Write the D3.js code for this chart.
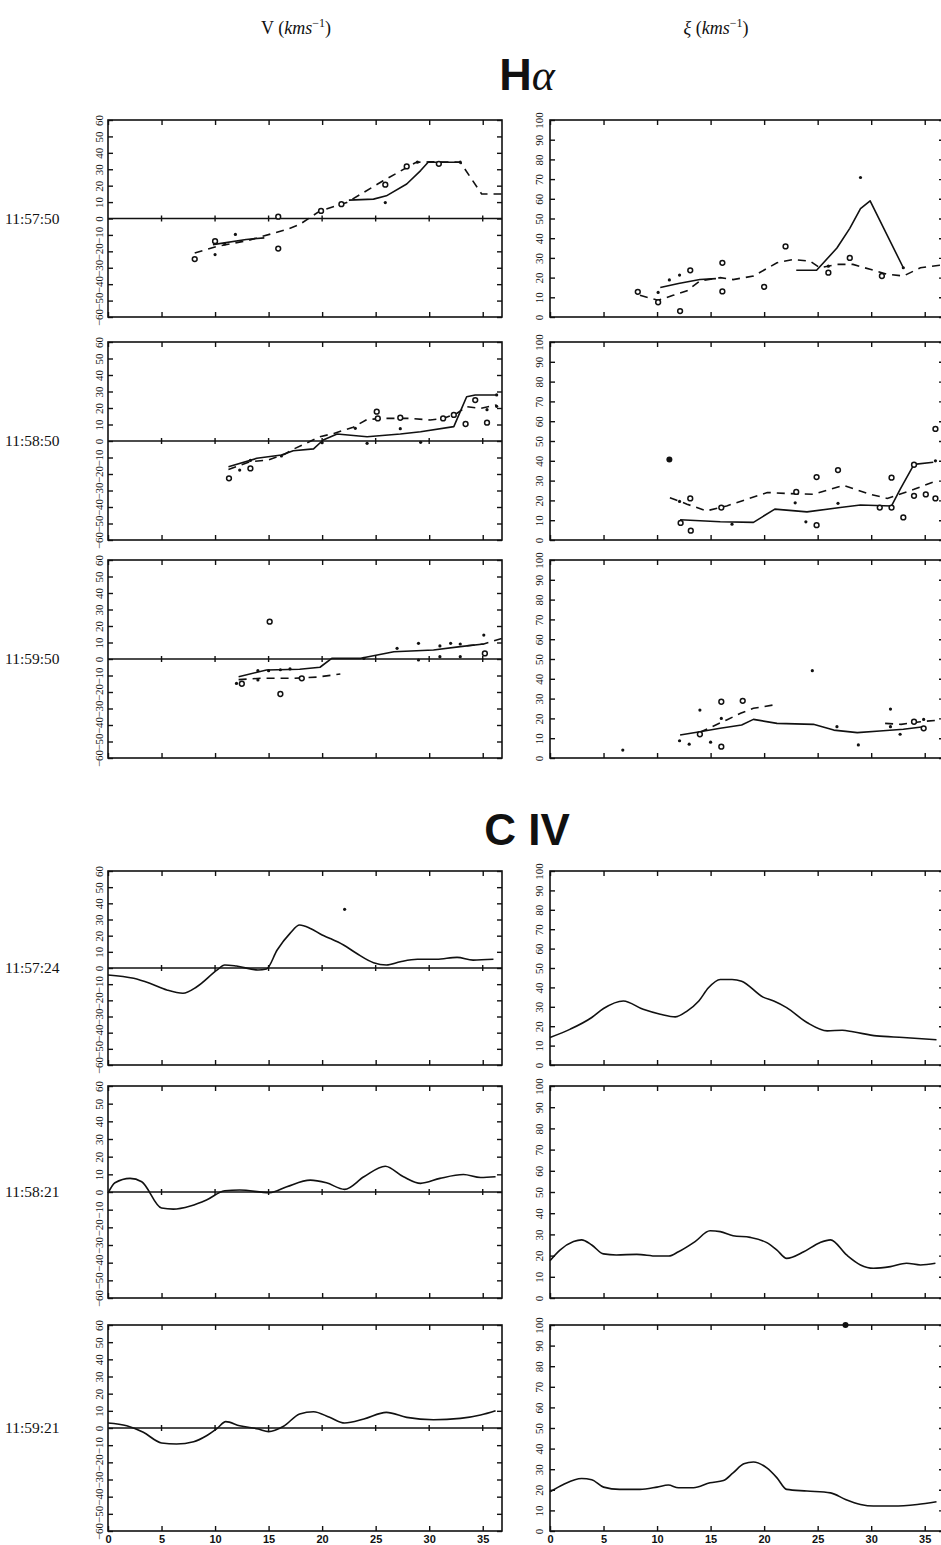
<!DOCTYPE html>
<html>
<head>
<meta charset="utf-8">
<script src="https://cdn.jsdelivr.net/npm/d3@7"></script>
<style>
  body { margin: 0; background: #fff; }
  svg { display: block; }
</style>
</head>
<body>
<div id="chart"></div>
<script>

/** axis ticks and row labels */
const timeTicks = [0, 5, 10, 15, 20, 25, 30, 35];
const vTicks = [-60, -50, -40, -30, -20, -10, 0, 10, 20, 30, 40, 50, 60];
const xiTicks = [0, 10, 20, 30, 40, 50, 60, 70, 80, 90, 100];
const rowTimes = ['11:57:50', '11:58:50', '11:59:50', '11:57:24', '11:58:21', '11:59:21'];

/** H-alpha, 11:57:50 */
const haV1Solid = [[9.8,-15.9],[12.9,-12.8],[14.6,-11.8],null,[22.5,11.2],[24.8,11.8],[26.0,13.8],[27.9,21.0],[29.2,29.2],[29.9,34.3],[32.9,34.3]];
const haV1Dashed = [[8.1,-21.0],[10.2,-16.9],[13.0,-13.5],[16.7,-6.7],[17.9,-3.6],[19.8,4.6],[22.3,9.7],[25.7,23.0],[28.8,34.3],[30.0,34.5],[32.9,34.3],[34.9,14.9],[36.8,14.9]];
const haV1Circles = [[8.1,-24.7],[10.0,-13.8],[15.9,1.1],[15.9,-18.3],[19.9,4.6],[21.8,8.7],[25.9,20.6],[27.9,31.7],[30.9,33.3]];
const haV1Dots = [[10.0,-22.0],[10.9,-15.5],[11.9,-9.7],[25.9,9.7],[28.9,34.3],[32.9,34.3]];

const haXi1Solid = [[10.3,15],[12,17],[14,19],[15.5,19.5],null,[23.0,23.7],[24.9,23.7],[26.8,35],[28.0,45],[29.0,55],[29.9,59],[33.0,25]];
const haXi1Dashed = [[8.4,11],[10.1,8.5],[11.5,11],[12.8,13.3],[14.0,18.3],[15.9,20],[17.1,19],[19.0,20.8],[21.2,27.5],[22.7,29.2],[24.3,28.3],[25.2,25],[26.8,26.7],[28.3,26.7],[29.9,24.2],[31.5,21.7],[33.0,20.8],[34.6,25],[36.4,26.3],[36.8,26.3]];
const haXi1Circles = [[8.2,12.8],[10.1,7.5],[12.15,3],[13.1,23.7],[16.1,27.5],[16.1,13],[20.0,15.3],[22.0,35.8],[26.0,22.5],[28.0,30],[31.0,20.8]];
const haXi1Dots = [[10.1,12.5],[11.15,18.8],[12.1,21.3],[26.0,25.8],[29.0,70.8],[33.0,25]];

/** H-alpha, 11:58:50 */
const haV2Solid = [[11.25,-15.6],[13.9,-10.5],[16.2,-8.5],[17.3,-5.9],[19.2,-4.8],[20.1,0.6],[21.4,4.2],[24.2,2.6],[27.3,4.2],[29.2,5.6],[32.3,8.7],[32.9,17.8],[33.5,26.8],[34.3,27.9],[36.3,27.9]];
const haV2Dashed = [[11.25,-17.2],[13.3,-12.5],[15.0,-11.5],[16.5,-8],[17.3,-5],[19.8,2.6],[21.1,4.6],[22.9,8.3],[24.2,13.1],[26.0,13.7],[28.2,13.7],[30.1,12.7],[31.3,13.7],[32.6,16.8],[33.5,20.8],[34.8,19.8],[36.3,21.8]];
const haV2Circles = [[11.3,-22.6],[13.3,-16.6],[25.1,17.8],[25.2,13.7],[27.3,14.1],[31.3,13.7],[32.3,15.8],[33.4,10.3],[34.3,24.8],[35.4,11.1]];
const haV2Dots = [[12.3,-17.6],[13.3,-11.8],[16.2,-9.1],[20.0,-1],[23.1,7.7],[24.2,-1.4],[27.3,7.5],[29.2,-0.8],[35.4,19],[36.3,27.9],[36.3,21]];

const haXi2Solid = [[12.15,10.2],[15.9,9.2],[19.0,8.9],[21.0,15.6],[24.0,14.2],[27.1,16.4],[29.0,17.7],[31.9,17.2],[32.7,25.6],[34.0,38.2],[35.8,39.3]];
const haXi2Dashed = [[11.2,21.4],[12.8,18.1],[14.6,14.7],[16.5,17.2],[18.4,20.6],[20.3,24],[22.1,23.5],[24.6,23.1],[27.4,27.6],[29.9,23.1],[31.5,21],[34.0,25.6],[35.8,29.3]];
const haXi2Circles = [[12.2,8.6],[13.1,21],[13.15,4.7],[16.0,16.4],[23.0,24.3],[24.9,31.8],[24.9,7.5],[26.9,35.3],[30.8,16.4],[31.9,31.5],[31.9,16.4],[33.0,11.4],[34.0,38],[34.0,22.3],[35.1,23],[36.0,56.1],[36.0,21]];
const haXi2Dots = [[12.1,19.5],[17.0,8],[22.9,18.8],[23.9,9.2],[26.9,18.5],[36.0,40]];
const haXi2Filled = [[11.15,40.7]];

/** H-alpha, 11:59:50 */
const haV3Solid = [[12.2,-10.7],[14.8,-6.7],[17.9,-6.2],[19.8,-5.0],[20.9,0.4],[23.6,0.4],[26.7,4.4],[30.4,5.5],[32.9,7.5],[35.1,9.1]];
const haV3Dashed = [[12.2,-12.5],[14.2,-11.7],[17.3,-11.7],[19.5,-11],[21.7,-9.1],null,[33.5,8],[35.1,9.1],[36.8,12.5]];
const haV3Circles = [[15.1,22.6],[16.1,-21.2],[18.1,-11.7],[12.5,-15],[35.2,3.4]];
const haV3Dots = [[12.0,-14.8],[14.0,-7.1],[15.0,-7.1],[16.1,-6.5],[17.0,-6.0],[14.0,-12.7],[23.9,0.4],[27.0,6.5],[29.0,9.5],[29.0,-0.6],[31.0,7.9],[31.0,1.4],[32.0,9.5],[32.9,9.1],[32.9,1.4],[35.1,14.5]];

const haXi3Solid = [[12.15,11.6],[14.0,13.3],[15.9,15],[17.9,16.7],[19.0,19.5],[21.2,17.5],[24.6,17],[26.5,14.1],[28.7,12.8],[30.8,13.6],[33.0,14.5],[34.9,15.8]];
const haXi3Dashed = [[14.0,13],[16.5,19.2],[17.8,22.6],[19.0,25.1],[20.9,26.8],null,[31.3,17.5],[32.8,17],[34.6,18.3],[36.4,19.2]];
const haXi3Circles = [[16.0,28.4],[18.0,28.9],[16.0,5.7],[34.0,18.3],[34.9,15],[14.0,12]];
const haXi3Dots = [[12.1,8.7],[13.0,7],[14.0,24.2],[16.0,20],[15.0,8],[24.5,44.1],[26.8,15.8],[28.8,6.6],[31.8,24.7],[31.8,15.8],[32.7,12],[34.9,19.5],[6.8,4]];

/** C IV, single curves */
const c4V1 = [[0,-4.3],[2.4,-6.4],[3.9,-9.5],[5.5,-13.6],[7.0,-15.6],[8.3,-11.6],[10.2,-1.2],[10.9,1.9],[12.0,1.2],[14.0,-1.2],[14.8,-0.6],[15.8,11.1],[17.0,21.4],[17.9,26.6],[18.9,24.5],[20.0,20.4],[20.7,18.4],[22.0,14.2],[23.2,9.1],[24.8,3.3],[26.0,1.9],[27.3,3.9],[28.9,5.4],[30.7,5.4],[32.6,6.6],[34.1,4.9],[36.0,5.4]];
const c4V1Dots = [[22.1,36.3]];
const c4Xi1 = [[0,14.2],[1.9,18.5],[3.9,24.5],[5.0,29.1],[6.85,33],[8.7,28.7],[10.3,26.2],[11.7,24.8],[12.8,27.8],[13.9,33],[14.8,39.8],[15.9,44.1],[17.0,44.1],[17.9,43.2],[19.9,35],[20.9,33],[22.1,29.6],[24.0,21.9],[25.9,17.6],[27.3,17.9],[28.3,17.1],[30.5,15],[33.0,14.2],[36.1,13.0]];

const c4V2 = [[0,-0.7],[0.65,5.2],[2.06,7.7],[3.15,5.8],[5.0,-9.1],[6.1,-9.7],[7.7,-7.9],[9.2,-4.5],[10.9,0.7],[12.3,1.1],[15.1,-0.4],[16.7,3],[18.9,6.7],[20.4,5.2],[22.1,1.5],[23.9,8.6],[25.9,14.6],[27.6,8.6],[29.2,4.9],[31.0,7.7],[33.2,9.9],[34.8,8.2],[36.2,8.6]];
const c4Xi2 = [[0,17.6],[0.93,22.6],[2.2,26.6],[2.95,27.4],[3.9,25],[5.0,20.8],[6.2,20.3],[8.1,20.6],[10.0,19.8],[11.1,19.8],[12.0,21.8],[13.55,26.6],[14.95,31.7],[15.9,31.3],[17.1,29.4],[18.7,28.6],[20.25,26.1],[21.2,22.6],[22.1,18.7],[23.7,21.8],[25.2,26.1],[26.2,27.4],[27.7,20.3],[29.0,15.6],[30.2,14],[31.8,14.8],[33.3,16.4],[34.6,15.6],[36.0,16.4]];

const c4V3 = [[0,2.9],[1.75,1.3],[3.3,-2.5],[5.0,-8.7],[6.4,-9.3],[8.0,-8],[9.2,-4.5],[10.2,-0.2],[11.0,3.7],[12.3,1.3],[14.05,-0.6],[15.0,-2.1],[16.4,1],[17.9,8.2],[19.2,9.5],[20.7,6.2],[22.1,2.9],[23.9,5.2],[26.0,9.1],[27.9,6.2],[30.4,4.8],[32.9,5.6],[34.8,7.6],[36.2,10.1]];
const c4Xi3 = [[0,19],[1.25,22.6],[2.95,25.5],[3.9,24.9],[5.0,21.3],[6.5,20.2],[8.4,20.2],[10.0,21.3],[11.05,22.3],[12.0,21],[13.4,21],[14.95,23.4],[16.2,24.5],[17.1,28.2],[18.1,32.6],[19.0,33.5],[20.25,30.6],[21.2,25.8],[22.1,20.2],[24.0,19.4],[26.2,18.5],[27.6,15.3],[29.0,12.9],[30.2,12.1],[32.1,12.1],[34.3,12.9],[36.1,14.2]];
const c4Xi3Filled = [[27.6,100]];


/** Set up canvas */
let width = 941, height = 1545;
let svg = d3.select('#chart').append('svg')
    .attr('width', width)
    .attr('height', height);

const colX = [108, 550];
const plotW = 394;
const rowY = [[120, 317], [342, 540], [560, 758], [871, 1065], [1086, 1298], [1325, 1531]];
const ink = '#111';

const panels = [
  {row: 0, col: 0, solid: haV1Solid, dashed: haV1Dashed, circles: haV1Circles, dots: haV1Dots},
  {row: 0, col: 1, solid: haXi1Solid, dashed: haXi1Dashed, circles: haXi1Circles, dots: haXi1Dots},
  {row: 1, col: 0, solid: haV2Solid, dashed: haV2Dashed, circles: haV2Circles, dots: haV2Dots},
  {row: 1, col: 1, solid: haXi2Solid, dashed: haXi2Dashed, circles: haXi2Circles, dots: haXi2Dots, filled: haXi2Filled},
  {row: 2, col: 0, solid: haV3Solid, dashed: haV3Dashed, circles: haV3Circles, dots: haV3Dots},
  {row: 2, col: 1, solid: haXi3Solid, dashed: haXi3Dashed, circles: haXi3Circles, dots: haXi3Dots},
  {row: 3, col: 0, solid: c4V1, dots: c4V1Dots, smooth: true},
  {row: 3, col: 1, solid: c4Xi1, smooth: true},
  {row: 4, col: 0, solid: c4V2, smooth: true},
  {row: 4, col: 1, solid: c4Xi2, smooth: true},
  {row: 5, col: 0, solid: c4V3, smooth: true},
  {row: 5, col: 1, solid: c4Xi3, filled: c4Xi3Filled, smooth: true}
];

function drawPanel (p) {
  let x0 = colX[p.col], top = rowY[p.row][0], bottom = rowY[p.row][1];
  let h = bottom - top;
  let isV = p.col === 0;

  let x = d3.scaleLinear().domain([0, 36.8]).range([0, plotW]);
  let y = d3.scaleLinear().domain(isV ? [-60, 60] : [0, 100]).range([h, 0]);

  let g = svg.append('g').attr('transform', `translate(${x0}, ${top})`);

  /** axes with inward ticks */
  let yTicks = isV ? vTicks : xiTicks;
  let left = g.append('g').call(d3.axisLeft(y).tickValues(yTicks).tickSize(-5).tickPadding(0));
  left.selectAll('text')
      .attr('x', null).attr('dy', null)
      .attr('transform', `translate(${isV ? -5 : -7}, 0) rotate(-90)`)
      .attr('text-anchor', 'middle')
      .style('font-family', 'Liberation Serif')
      .style('font-size', '11px')
      .attr('fill', ink);
  g.append('g').attr('transform', `translate(${plotW}, 0)`)
      .call(d3.axisRight(y).tickValues(yTicks).tickSize(-5).tickFormat(''));
  g.append('g').call(d3.axisTop(x).tickValues(timeTicks).tickSize(-5).tickFormat(''));
  let bot = g.append('g').attr('transform', `translate(0, ${h})`)
      .call(d3.axisBottom(x).tickValues(timeTicks).tickSize(-5).tickPadding(4)
             .tickFormat(p.row === 5 ? d3.format('d') : ''));
  bot.selectAll('text')
      .style('font-family', 'Liberation Sans')
      .style('font-weight', 'bold')
      .style('font-size', '11px')
      .attr('fill', ink);
  g.selectAll('.domain').remove();
  g.selectAll('.tick line').attr('stroke', ink).attr('stroke-width', 1.4);

  /** frame */
  g.append('rect')
      .attr('width', plotW).attr('height', h)
      .attr('fill', 'none')
      .attr('stroke', ink)
      .attr('stroke-width', 1.6);

  /** zero line for velocity panels */
  if (isV) {
    g.append('line')
        .attr('x1', 0).attr('x2', plotW)
        .attr('y1', y(0)).attr('y2', y(0))
        .attr('stroke', ink).attr('stroke-width', 1.4);
    g.selectAll('.zeroTick')
        .data(timeTicks.slice(1))
        .enter()
        .append('line')
        .attr('x1', d => x(d)).attr('x2', d => x(d))
        .attr('y1', y(0) - 3).attr('y2', y(0) + 3)
        .attr('stroke', ink).attr('stroke-width', 1.4);
  }

  let line = d3.line()
      .defined(d => d != null)
      .x(d => x(d[0]))
      .y(d => y(d[1]))
      .curve(p.smooth ? d3.curveMonotoneX : d3.curveLinear);

  if (p.dashed) {
    g.append('path')
        .attr('d', line(p.dashed))
        .attr('fill', 'none')
        .attr('stroke', ink)
        .attr('stroke-width', 1.6)
        .attr('stroke-dasharray', '8,6');
  }
  if (p.solid) {
    g.append('path')
        .attr('d', line(p.solid))
        .attr('fill', 'none')
        .attr('stroke', ink)
        .attr('stroke-width', 1.6)
        .attr('stroke-linejoin', 'round');
  }
  if (p.circles) {
    g.selectAll('.circ')
        .data(p.circles)
        .enter()
        .append('circle')
        .attr('cx', d => x(d[0])).attr('cy', d => y(d[1]))
        .attr('r', 2.4)
        .attr('fill', '#fff')
        .attr('stroke', ink)
        .attr('stroke-width', 1.5);
  }
  if (p.dots) {
    g.selectAll('.dot')
        .data(p.dots)
        .enter()
        .append('circle')
        .attr('cx', d => x(d[0])).attr('cy', d => y(d[1]))
        .attr('r', 1.6)
        .attr('fill', ink);
  }
  if (p.filled) {
    g.selectAll('.filled')
        .data(p.filled)
        .enter()
        .append('circle')
        .attr('cx', d => x(d[0])).attr('cy', d => y(d[1]))
        .attr('r', 3)
        .attr('fill', ink);
  }
}

panels.forEach(drawPanel);

/** row time labels, level with the zero line */
svg.selectAll('.rowLabel')
    .data(rowTimes)
    .enter()
    .append('text')
    .attr('x', 5)
    .attr('y', (d, i) => (rowY[i][0] + rowY[i][1]) / 2 + 5)
    .style('font-family', 'Liberation Serif')
    .style('font-size', '15.5px')
    .attr('fill', ink)
    .text(d => d);

/** column headers */
let hdrV = svg.append('text')
    .attr('x', 296).attr('y', 34)
    .attr('text-anchor', 'middle')
    .style('font-family', 'Liberation Serif')
    .style('font-size', '18px')
    .attr('fill', ink);
hdrV.append('tspan').text('V (');
hdrV.append('tspan').style('font-style', 'italic').text('kms');
hdrV.append('tspan').attr('dy', -7).style('font-size', '12px').text('−1');
hdrV.append('tspan').attr('dy', 7).text(')');

let hdrXi = svg.append('text')
    .attr('x', 716).attr('y', 34)
    .attr('text-anchor', 'middle')
    .style('font-family', 'Liberation Serif')
    .style('font-size', '18px')
    .attr('fill', ink);
hdrXi.append('tspan').style('font-style', 'italic').text('ξ');
hdrXi.append('tspan').text(' (');
hdrXi.append('tspan').style('font-style', 'italic').text('kms');
hdrXi.append('tspan').attr('dy', -7).style('font-size', '12px').text('−1');
hdrXi.append('tspan').attr('dy', 7).text(')');

/** section titles */
let hAlpha = svg.append('text')
    .attr('x', 527).attr('y', 90)
    .attr('text-anchor', 'middle')
    .attr('fill', ink);
hAlpha.append('tspan')
    .style('font-family', 'Liberation Sans')
    .style('font-weight', 'bold')
    .style('font-size', '45px')
    .text('H');
hAlpha.append('tspan')
    .style('font-family', 'Liberation Serif')
    .style('font-style', 'italic')
    .style('font-size', '44px')
    .text('α');

svg.append('text')
    .attr('x', 527).attr('y', 845)
    .attr('text-anchor', 'middle')
    .style('font-family', 'Liberation Sans')
    .style('font-weight', 'bold')
    .style('font-size', '44px')
    .attr('fill', ink)
    .text('C IV');

</script>
</body>
</html>
